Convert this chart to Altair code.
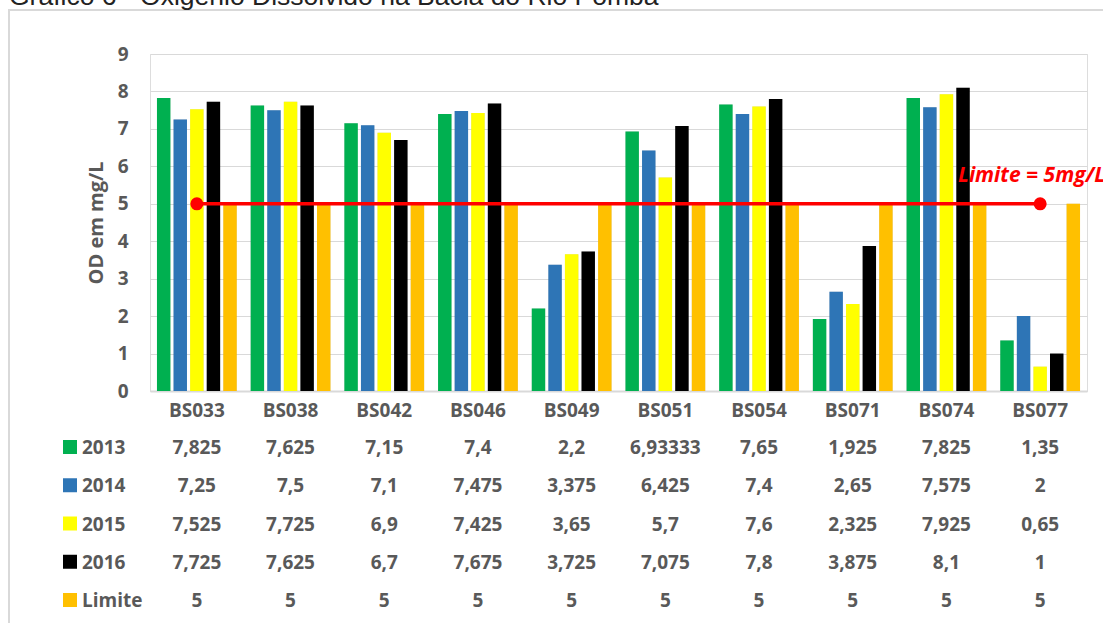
import altair as alt
import pandas as pd

stations = ["BS033", "BS038", "BS042", "BS046", "BS049", "BS051", "BS054", "BS071", "BS074", "BS077"]
series = ["2013", "2014", "2015", "2016", "Limite"]
v2013 = [7.825, 7.625, 7.15, 7.4, 2.2, 6.93333, 7.65, 1.925, 7.825, 1.35]
v2014 = [7.25, 7.5, 7.1, 7.475, 3.375, 6.425, 7.4, 2.65, 7.575, 2]
v2015 = [7.525, 7.725, 6.9, 7.425, 3.65, 5.7, 7.6, 2.325, 7.925, 0.65]
v2016 = [7.725, 7.625, 6.7, 7.675, 3.725, 7.075, 7.8, 3.875, 8.1, 1]
vlim = [5, 5, 5, 5, 5, 5, 5, 5, 5, 5]
colors = ["#00B050", "#2E75B6", "#FFFF00", "#000000", "#FFC000"]
title_text = "Gráfico 6 - Oxigênio Dissolvido na Bacia do Rio Pomba"
limit_label = "Limite = 5mg/L"

rows = []
for s, vals in zip(series, [v2013, v2014, v2015, v2016, vlim]):
    for st, v in zip(stations, vals):
        rows.append({"station": st, "serie": s, "value": v,
                     "label": format(v, "g").replace(".", ",")})
df = pd.DataFrame(rows)
lim_df = pd.DataFrame({"station": stations, "value": vlim})
ends_df = lim_df.iloc[[0, -1]]
leg_df = pd.DataFrame({"serie": series})
one = pd.DataFrame({"a": [0]})

W, H = 937, 337
FONT = "Open Sans"
GRAY = "#595959"

xaxis = alt.Axis(title=None, labelAngle=0, ticks=False, domain=True, domainColor="#d9d9d9",
                 domainWidth=2, labelPadding=25, labelBaseline="alphabetic",
                 labelFont=FONT, labelFontSize=19, labelFontWeight="bold", labelColor=GRAY)
xs = alt.X("station:N", sort=stations, scale=alt.Scale(paddingInner=0, paddingOuter=0), axis=xaxis)
ysc = alt.Scale(domain=[0, 9], nice=False, zero=True)
yaxis = alt.Axis(values=list(range(10)), title="OD em mg/L", grid=True, gridColor="#d9d9d9",
                 ticks=False, domain=False, labelPadding=22, labelFont=FONT, labelFontSize=19,
                 labelFontWeight="bold", labelColor=GRAY, titleFont=FONT, titleFontSize=20,
                 titleFontWeight="bold", titleColor=GRAY, titleX=-48, titleY=H / 2,
                 titleBaseline="alphabetic", titleAlign="center", titleAngle=270)
ys = alt.Y("value:Q", scale=ysc, axis=yaxis, title="OD em mg/L")
color = alt.Color("serie:N", sort=series, scale=alt.Scale(domain=series, range=colors), legend=None)
xoff = alt.XOffset("serie:N", sort=series, scale=alt.Scale(paddingInner=0.19, paddingOuter=0.42))

shadow = alt.Chart(df).mark_bar(color="#000000", opacity=0.16, xOffset=1.5).encode(
    x=xs, xOffset=xoff, y=ys)
bars = alt.Chart(df).mark_bar().encode(x=xs, xOffset=xoff, y=ys, color=color)
line = alt.Chart(lim_df).mark_line(color="#FF0000", strokeWidth=3.5).encode(x=xs, y=ys)
pts = alt.Chart(ends_df).mark_point(filled=True, color="#FF0000", size=170, opacity=1).encode(x=xs, y=ys)
lab = alt.Chart(one).mark_text(text=limit_label, color="#FF0000", font=FONT, fontSize=21,
                               fontWeight="bold", fontStyle="italic", align="left",
                               baseline="alphabetic").encode(x=alt.value(808), y=alt.value(128))

rowscale = alt.Scale(domain=series, range=[400, 553], padding=0)
rowy = alt.Y("serie:N", sort=series, scale=rowscale, axis=None)
table = alt.Chart(df).mark_text(font=FONT, fontSize=19, fontWeight="bold", color=GRAY,
                                baseline="alphabetic").encode(x=xs, y=rowy, text="label:N")
squares = alt.Chart(leg_df).mark_square(size=196, opacity=1, yOffset=-7).encode(
    x=alt.value(-80), y=rowy, color=color)
rowlabels = alt.Chart(leg_df).mark_text(font=FONT, fontSize=19, fontWeight="bold", color=GRAY,
                                        align="left", baseline="alphabetic").encode(
    x=alt.value(-68), y=rowy, text="serie:N")

frame = alt.Chart(one).mark_rect(fill="transparent", stroke="#d9d9d9", strokeWidth=2).encode(
    x=alt.value(-141), y=alt.value(-44), x2=alt.value(W + 40), y2=alt.value(H + 260))
title = alt.Chart(one).mark_text(text=title_text, font="Liberation Sans", fontSize=26.5, color="#222222",
                                 align="left", baseline="alphabetic").encode(
    x=alt.value(-141), y=alt.value(-49))

main = alt.layer(shadow, bars, line, pts, lab)
tbl = alt.layer(table, squares, rowlabels)

chart = alt.layer(frame, title, main, tbl).resolve_scale(y="independent").properties(
    width=W, height=H, autosize=alt.AutoSizeParams(type="none"),
    padding={"left": 150, "top": 54, "right": 16, "bottom": 232}
).configure_view(stroke="transparent", strokeWidth=0).configure(background="white")

chart.save("out.html", embed_options={"renderer": "svg", "actions": False})
